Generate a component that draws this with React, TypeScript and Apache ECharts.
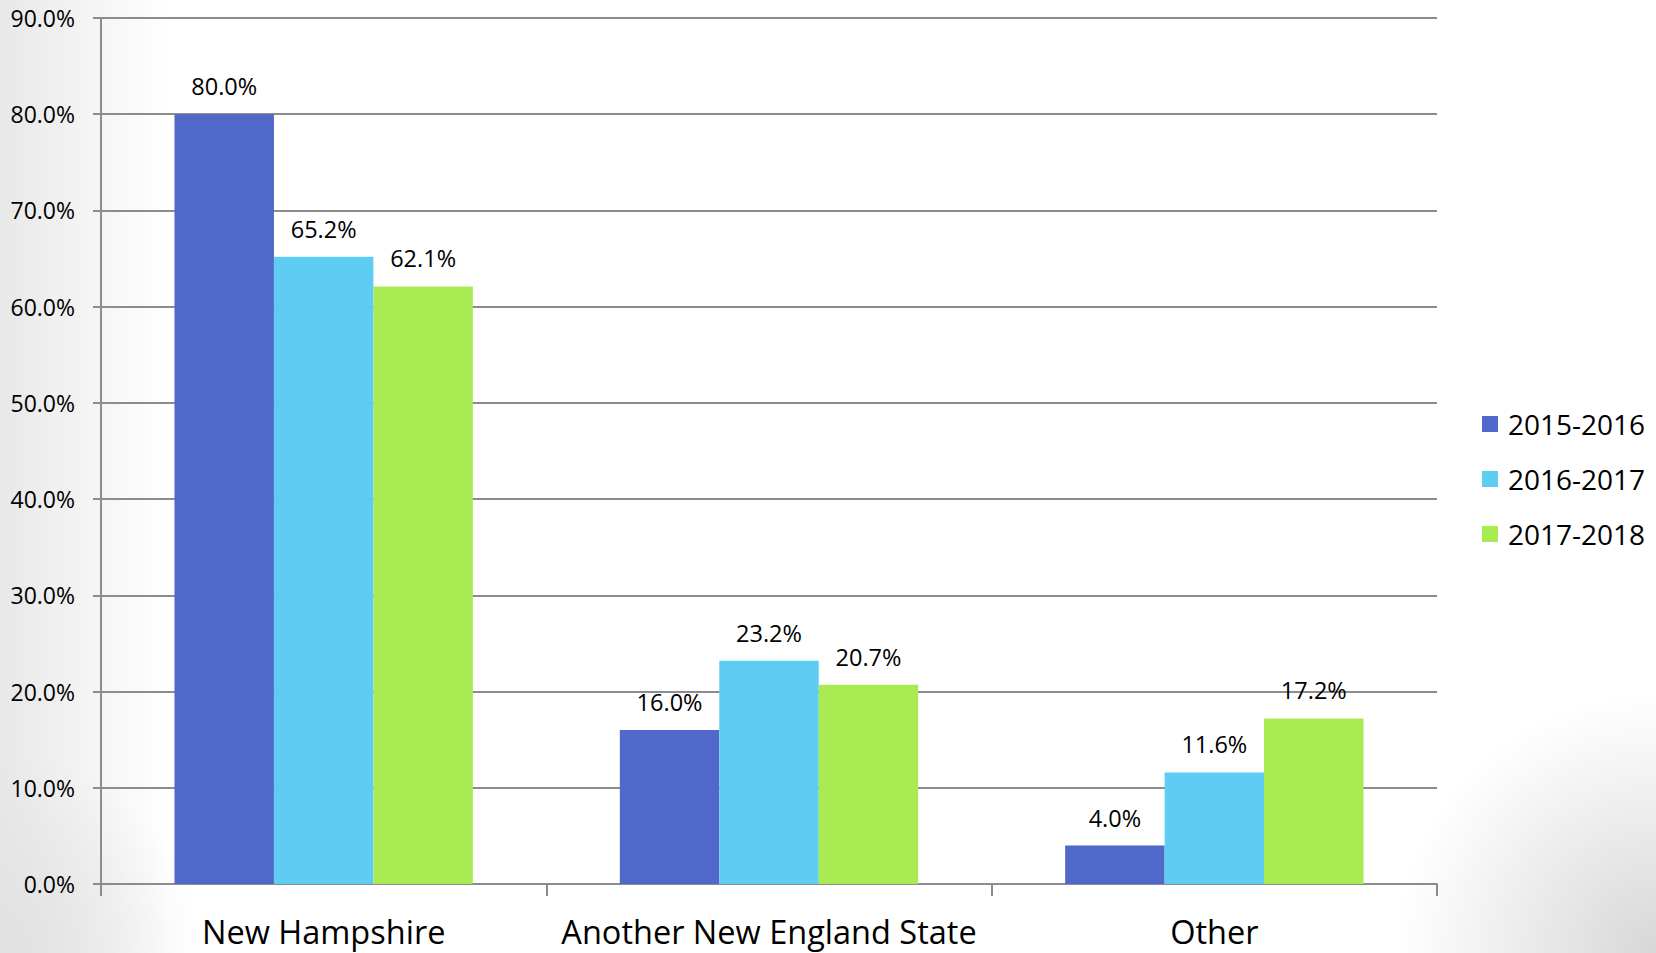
import React, { useEffect, useRef } from "react";
import * as echarts from "echarts";

const categories = ["New Hampshire", "Another New England State", "Other"];
const seriesNames = ["2015-2016", "2016-2017", "2017-2018"];
const values2015 = [80.0, 16.0, 4.0];
const values2016 = [65.2, 23.2, 11.6];
const values2017 = [62.1, 20.7, 17.2];
const colors = ["#4F68C9", "#5FCDF3", "#A8EB53"];

const FONT = "'Open Sans', 'Noto Sans', sans-serif";

export default function App() {
  const ref = useRef<HTMLDivElement>(null);
  useEffect(() => {
    if (!ref.current) return;
    const chart = echarts.init(ref.current, undefined, { renderer: "svg" });
    const data = [values2015, values2016, values2017];
    chart.setOption({
      animation: false,
      backgroundColor: "transparent",
      textStyle: { fontFamily: FONT },
      grid: { left: 101, right: 219, top: 18, bottom: 69, containLabel: false },
      legend: {
        orient: "vertical",
        left: 1477,
        top: 405,
        itemWidth: 16,
        itemHeight: 16,
        itemGap: 27,
        icon: "rect",
        textStyle: { fontSize: 28, color: "#000", fontFamily: FONT, padding: [0, 0, 0, 5] },
        data: seriesNames,
      },
      xAxis: {
        type: "category",
        data: categories,
        axisLine: { lineStyle: { color: "#8c8c8c", width: 2 } },
        axisTick: { show: true, interval: 0, length: 12, lineStyle: { color: "#8c8c8c", width: 2 } },
        axisLabel: { interval: 0, fontSize: 32.5, color: "#000", margin: 31, fontFamily: FONT },
      },
      yAxis: {
        type: "value",
        min: 0,
        max: 90,
        interval: 10,
        axisLine: { show: true, lineStyle: { color: "#8c8c8c", width: 2 } },
        axisTick: { show: true, length: 8, lineStyle: { color: "#8c8c8c", width: 2 } },
        splitLine: { lineStyle: { color: "#8c8c8c", width: 2 } },
        axisLabel: {
          fontSize: 23,
          color: "#000",
          margin: 26,
          fontFamily: FONT,
          formatter: (v: number) => v.toFixed(1) + "%",
        },
      },
      series: seriesNames.map((name, i) => ({
        name,
        type: "bar",
        data: data[i],
        barGap: "0%",
        barCategoryGap: "33%",
        itemStyle: { color: colors[i] },
        label: {
          show: true,
          position: "top",
          distance: 16,
          fontSize: 23.5,
          color: "#000",
          fontFamily: FONT,
          formatter: (p: any) => Number(p.value).toFixed(1) + "%",
        },
      })),
    });
    return () => chart.dispose();
  }, []);
  return (
    <div
      style={{
        position: "fixed",
        left: 0,
        top: 0,
        width: 1656,
        height: 953,
        background:
          "radial-gradient(circle at 100% 100%, rgba(215,215,215,1) 0px, rgba(255,255,255,0) 260px), radial-gradient(circle at 0% 100%, rgba(225,225,225,1) 0px, rgba(255,255,255,0) 200px), linear-gradient(to right, #e8e8e8 0px, #ffffff 170px)",
      }}
    >
      <div ref={ref} style={{ width: 1656, height: 953 }} />
    </div>
  );
}
